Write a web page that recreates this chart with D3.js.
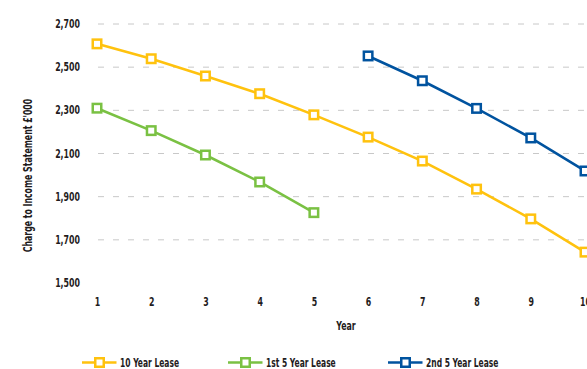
<!DOCTYPE html>
<html>
<head>
<meta charset="utf-8">
<script src="https://cdn.jsdelivr.net/npm/d3@7"></script>
<style>
  html, body { margin: 0; padding: 0; background: #fff; }
  svg { display: block; }
  text { font-family: "DejaVu Sans Condensed", "DejaVu Sans", sans-serif; font-weight: bold; fill: #1f1c1d; }
</style>
</head>
<body>
<svg id="chart" width="587" height="369"></svg>
<script>
// Chart data
const years = [1, 2, 3, 4, 5, 6, 7, 8, 9, 10];
const tenYearLease = [2608, 2539, 2459, 2377, 2279, 2176, 2065, 1935, 1797, 1643];
const firstFiveYearLease = [2310, 2206, 2093, 1968, 1826];
const secondFiveYearLease = [2552, 2437, 2309, 2172, 2019];
const yTicks = [1500, 1700, 1900, 2100, 2300, 2500, 2700];
const seriesNames = ["10 Year Lease", "1st 5 Year Lease", "2nd 5 Year Lease"];
const seriesColors = ["#ffc20e", "#7ac143", "#00539f"];

const series = [
  { name: seriesNames[0], color: seriesColors[0], points: years.map((y, i) => [y, tenYearLease[i]]) },
  { name: seriesNames[1], color: seriesColors[1], points: years.slice(0, 5).map((y, i) => [y, firstFiveYearLease[i]]) },
  { name: seriesNames[2], color: seriesColors[2], points: years.slice(5).map((y, i) => [y, secondFiveYearLease[i]]) }
];

// Narrow lettering: squeeze glyphs horizontally
const condense = "scale(0.7,1)";

const svg = d3.select("#chart");

const x = d3.scaleLinear().domain([1, 10]).range([97, 585]);
const y = d3.scaleLinear().domain([1500, 2700]).range([283, 24]);

// Horizontal dashed gridlines
svg.append("g")
  .selectAll("line")
  .data(yTicks.filter(t => t > 1500))
  .join("line")
  .attr("x1", 98).attr("x2", 600)
  .attr("y1", d => y(d)).attr("y2", d => y(d))
  .attr("stroke", "#c8c8c8")
  .attr("stroke-width", 1)
  .attr("stroke-dasharray", "6,9");

function styleTickText(g, dy) {
  g.select(".domain").remove();
  g.selectAll("text")
    .attr("font-size", 12.5)
    .attr("dy", dy)
    .attr("transform", condense)
    .style("font-family", "'DejaVu Sans Condensed', 'DejaVu Sans', sans-serif")
    .style("font-weight", "bold")
    .attr("fill", "#1f1c1d");
}

// Y axis labels
const yAxis = d3.axisLeft(y).tickValues(yTicks).tickFormat(d3.format(",")).tickSize(0).tickPadding(0);
svg.append("g")
  .attr("transform", "translate(80,0)")
  .call(yAxis)
  .call(g => styleTickText(g, "0.28em"));

// X axis labels
const xAxis = d3.axisBottom(x).tickValues(years).tickFormat(d3.format("d")).tickSize(0).tickPadding(0);
svg.append("g")
  .attr("transform", "translate(0,297)")
  .call(xAxis)
  .call(g => styleTickText(g, "0.71em"));

// Axis titles
svg.append("g")
  .attr("transform", "translate(28,175.5) rotate(-90)")
  .append("text")
  .attr("transform", condense)
  .attr("text-anchor", "middle")
  .attr("dy", "0.35em")
  .attr("font-size", 12.4)
  .text("Charge to Income Statement £'000");

svg.append("g")
  .attr("transform", "translate(346,330)")
  .append("text")
  .attr("transform", condense)
  .attr("text-anchor", "middle")
  .attr("font-size", 12.5)
  .text("Year");

// Lines and square markers
const line = d3.line().x(d => x(d[0])).y(d => y(d[1]));
const markerSize = 8.5;

series.forEach(s => {
  svg.append("path")
    .datum(s.points)
    .attr("fill", "none")
    .attr("stroke", s.color)
    .attr("stroke-width", 2.6)
    .attr("d", line);

  svg.append("g")
    .selectAll("rect")
    .data(s.points)
    .join("rect")
    .attr("x", d => x(d[0]) - markerSize / 2)
    .attr("y", d => y(d[1]) - markerSize / 2)
    .attr("width", markerSize)
    .attr("height", markerSize)
    .attr("fill", "#fff")
    .attr("stroke", s.color)
    .attr("stroke-width", 2.5);
});

// Legend
const legendX = [82, 228, 388];
const legend = svg.append("g");
series.forEach((s, i) => {
  const g = legend.append("g").attr("transform", `translate(${legendX[i]},362.5)`);
  g.append("line")
    .attr("x1", 0).attr("x2", 34.5)
    .attr("y1", 0).attr("y2", 0)
    .attr("stroke", s.color)
    .attr("stroke-width", 2.6);
  g.append("rect")
    .attr("x", 17.5 - 4.25).attr("y", -4.25)
    .attr("width", 8.5).attr("height", 8.5)
    .attr("fill", "#fff")
    .attr("stroke", s.color)
    .attr("stroke-width", 2.5);
  g.append("g")
    .attr("transform", "translate(38,0)")
    .append("text")
    .attr("transform", condense)
    .attr("dy", "0.36em")
    .attr("font-size", 12)
    .text(s.name);
});
</script>
</body>
</html>
